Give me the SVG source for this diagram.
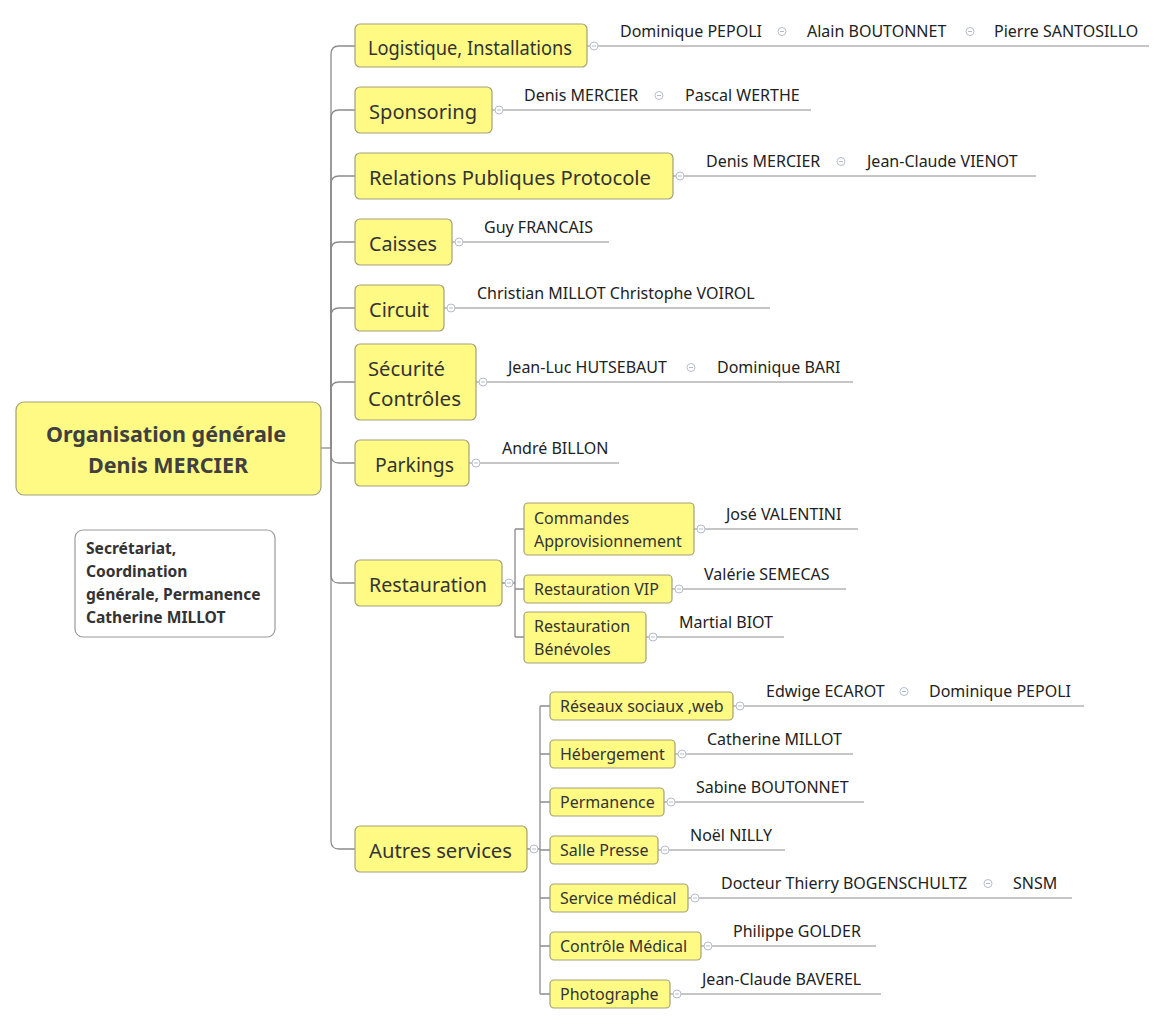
<svg xmlns="http://www.w3.org/2000/svg" width="1165" height="1025" viewBox="0 0 1165 1025">
<defs>
<style>
.box{fill:#fffa84;stroke:#a3a07c;stroke-width:1.2}
.note{fill:#ffffff;stroke:#9a9a9a;stroke-width:1.2}
.t1{font-family:"Noto Sans","Open Sans",sans-serif;font-size:19.5px;fill:#333333}
.t2{font-family:"Noto Sans","Open Sans",sans-serif;font-size:16px;fill:#333333}
.tl{font-family:"Noto Sans","Open Sans",sans-serif;font-size:16px;fill:#222222}
.troot{font-family:"Noto Sans","Open Sans",sans-serif;font-size:21.5px;font-weight:bold;fill:#404040}
.tnote{font-family:"Noto Sans","Open Sans",sans-serif;font-size:15.6px;font-weight:bold;fill:#333333}
.conn{fill:none;stroke:#8c8c8c;stroke-width:1.3}
.leaf{fill:none;stroke:#8c8c8c;stroke-width:1}
</style>
<g id="icon"><circle cx="0" cy="0" r="4" fill="#ffffff" stroke="#b4bccd" stroke-width="1"/><path d="M-2,0H2" stroke="#b4bccd" stroke-width="1"/></g>
</defs>
<rect width="1165" height="1025" fill="#ffffff"/>

<g id="connectors">
<path class="conn" d="M321,448H331"/>
<path class="conn" d="M331,448V54Q331,46 339,46H355"/>
<path class="conn" d="M331,448V118Q331,110 339,110H355"/>
<path class="conn" d="M331,448V184Q331,176 339,176H355"/>
<path class="conn" d="M331,448V250Q331,242 339,242H355"/>
<path class="conn" d="M331,448V316Q331,308 339,308H355"/>
<path class="conn" d="M331,448V390Q331,382 339,382H355"/>
<path class="conn" d="M331,448V455Q331,463 339,463H355"/>
<path class="conn" d="M331,448V575Q331,583 339,583H355"/>
<path class="conn" d="M331,448V841Q331,849 339,849H355"/>
<path class="conn" d="M502,583H515M515,529V637M515,529H524M515,589H524M515,637H524"/>
<path class="conn" d="M527,849H540M540,706V994M540,706H550M540,754H550M540,802H550M540,850H550M540,898H550M540,946H550M540,994H550"/>
<path class="leaf" d="M587,46H1149"/>
<path class="leaf" d="M492,110H811"/>
<path class="leaf" d="M673,176H1036"/>
<path class="leaf" d="M452,242H609"/>
<path class="leaf" d="M444,308H770"/>
<path class="leaf" d="M476,382H853"/>
<path class="leaf" d="M469,463H619"/>
<path class="leaf" d="M694,529H858"/>
<path class="leaf" d="M672,589H846"/>
<path class="leaf" d="M646,637H784"/>
<path class="leaf" d="M733,706H1084"/>
<path class="leaf" d="M675,754H853"/>
<path class="leaf" d="M664,802H864"/>
<path class="leaf" d="M658,850H785"/>
<path class="leaf" d="M688,898H1072"/>
<path class="leaf" d="M701,946H876"/>
<path class="leaf" d="M670,994H881"/>
</g>

<g id="icons">
<use href="#icon" x="594" y="46"/>
<use href="#icon" x="499" y="110"/>
<use href="#icon" x="680" y="176"/>
<use href="#icon" x="459" y="242"/>
<use href="#icon" x="451" y="308"/>
<use href="#icon" x="483" y="382"/>
<use href="#icon" x="476" y="463"/>
<use href="#icon" x="509" y="583"/>
<use href="#icon" x="534" y="849"/>
<use href="#icon" x="701" y="529"/>
<use href="#icon" x="679" y="589"/>
<use href="#icon" x="653" y="637"/>
<use href="#icon" x="740" y="706"/>
<use href="#icon" x="682" y="754"/>
<use href="#icon" x="671" y="802"/>
<use href="#icon" x="665" y="850"/>
<use href="#icon" x="695" y="898"/>
<use href="#icon" x="708" y="946"/>
<use href="#icon" x="677" y="994"/>
<use href="#icon" x="782" y="31.5"/>
<use href="#icon" x="970" y="31.5"/>
<use href="#icon" x="659" y="95.5"/>
<use href="#icon" x="841" y="161.5"/>
<use href="#icon" x="691" y="367.5"/>
<use href="#icon" x="904" y="691.5"/>
<use href="#icon" x="988" y="883.5"/>
</g>

<g id="root">
<rect class="box" x="16" y="402" width="305" height="93" rx="8"/>
<text class="troot" x="166" y="442" text-anchor="middle">Organisation générale</text>
<text class="troot" x="168" y="473" text-anchor="middle">Denis MERCIER</text>
</g>

<g id="note">
<rect class="note" x="75" y="530" width="200" height="107" rx="8"/>
<text class="tnote" x="86" y="554">Secrétariat,</text>
<text class="tnote" x="86" y="577">Coordination</text>
<text class="tnote" x="86" y="600">générale, Permanence</text>
<text class="tnote" x="86" y="623">Catherine MILLOT</text>
</g>

<g id="logistique">
<rect class="box" x="355" y="24" width="232" height="43" rx="5"/>
<text class="t1" x="368" y="55" textLength="204" lengthAdjust="spacingAndGlyphs">Logistique, Installations</text>
<text class="tl" x="620" y="37">Dominique PEPOLI</text>
<text class="tl" x="807" y="37">Alain BOUTONNET</text>
<text class="tl" x="994" y="37">Pierre SANTOSILLO</text>
</g>

<g id="sponsoring">
<rect class="box" x="355" y="87" width="137" height="46" rx="5"/>
<text class="t1" x="369" y="119" textLength="108" lengthAdjust="spacingAndGlyphs">Sponsoring</text>
<text class="tl" x="524" y="101">Denis MERCIER</text>
<text class="tl" x="685" y="101">Pascal WERTHE</text>
</g>

<g id="relations">
<rect class="box" x="355" y="153" width="318" height="46" rx="5"/>
<text class="t1" x="369" y="185" textLength="282" lengthAdjust="spacingAndGlyphs">Relations Publiques Protocole</text>
<text class="tl" x="706" y="167">Denis MERCIER</text>
<text class="tl" x="867" y="167">Jean-Claude VIENOT</text>
</g>

<g id="caisses">
<rect class="box" x="355" y="219" width="97" height="46" rx="5"/>
<text class="t1" x="369" y="251" textLength="68" lengthAdjust="spacingAndGlyphs">Caisses</text>
<text class="tl" x="484" y="233">Guy FRANCAIS</text>
</g>

<g id="circuit">
<rect class="box" x="355" y="285" width="89" height="46" rx="5"/>
<text class="t1" x="369" y="317" textLength="60" lengthAdjust="spacingAndGlyphs">Circuit</text>
<text class="tl" x="477" y="299">Christian MILLOT Christophe VOIROL</text>
</g>

<g id="securite">
<rect class="box" x="355" y="344" width="121" height="76" rx="5"/>
<text class="t1" x="368" y="376" textLength="77" lengthAdjust="spacingAndGlyphs">Sécurité</text>
<text class="t1" x="368" y="406" textLength="93" lengthAdjust="spacingAndGlyphs">Contrôles</text>
<text class="tl" x="508" y="373">Jean-Luc HUTSEBAUT</text>
<text class="tl" x="717" y="373">Dominique BARI</text>
</g>

<g id="parkings">
<rect class="box" x="355" y="440" width="114" height="46" rx="5"/>
<text class="t1" x="375" y="472" textLength="79" lengthAdjust="spacingAndGlyphs">Parkings</text>
<text class="tl" x="502" y="454">André BILLON</text>
</g>

<g id="restauration">
<rect class="box" x="355" y="560" width="147" height="46" rx="5"/>
<text class="t1" x="369" y="592" textLength="118" lengthAdjust="spacingAndGlyphs">Restauration</text>
</g>

<g id="commandes">
<rect class="box" x="524" y="503" width="170" height="52" rx="4"/>
<text class="t2" x="534" y="524">Commandes</text>
<text class="t2" x="534" y="547">Approvisionnement</text>
<text class="tl" x="726" y="520">José VALENTINI</text>
</g>

<g id="restauration-vip">
<rect class="box" x="524" y="575" width="148" height="28" rx="4"/>
<text class="t2" x="534" y="595">Restauration VIP</text>
<text class="tl" x="704" y="580">Valérie SEMECAS</text>
</g>

<g id="restauration-benevoles">
<rect class="box" x="524" y="612" width="122" height="51" rx="4"/>
<text class="t2" x="534" y="632">Restauration</text>
<text class="t2" x="534" y="655">Bénévoles</text>
<text class="tl" x="679" y="628">Martial BIOT</text>
</g>

<g id="autres">
<rect class="box" x="355" y="826" width="172" height="46" rx="5"/>
<text class="t1" x="369" y="858" textLength="143" lengthAdjust="spacingAndGlyphs">Autres services</text>
</g>

<g id="reseaux">
<rect class="box" x="550" y="692" width="183" height="28" rx="4"/>
<text class="t2" x="560" y="712">Réseaux sociaux ,web</text>
<text class="tl" x="766" y="697">Edwige ECAROT</text>
<text class="tl" x="929" y="697">Dominique PEPOLI</text>
</g>

<g id="hebergement">
<rect class="box" x="550" y="740" width="125" height="28" rx="4"/>
<text class="t2" x="560" y="760">Hébergement</text>
<text class="tl" x="707" y="745">Catherine MILLOT</text>
</g>

<g id="permanence">
<rect class="box" x="550" y="788" width="114" height="28" rx="4"/>
<text class="t2" x="560" y="808">Permanence</text>
<text class="tl" x="696" y="793">Sabine BOUTONNET</text>
</g>

<g id="salle-presse">
<rect class="box" x="550" y="836" width="108" height="28" rx="4"/>
<text class="t2" x="560" y="856">Salle Presse</text>
<text class="tl" x="690" y="841">Noël NILLY</text>
</g>

<g id="service-medical">
<rect class="box" x="550" y="884" width="138" height="28" rx="4"/>
<text class="t2" x="560" y="904">Service médical</text>
<text class="tl" x="721" y="889">Docteur Thierry BOGENSCHULTZ</text>
<text class="tl" x="1013" y="889">SNSM</text>
</g>

<g id="controle-medical">
<rect class="box" x="550" y="932" width="151" height="28" rx="4"/>
<text class="t2" x="560" y="952">Contrôle Médical</text>
<text class="tl" x="733" y="937">Philippe GOLDER</text>
</g>

<g id="photographe">
<rect class="box" x="550" y="980" width="120" height="28" rx="4"/>
<text class="t2" x="560" y="1000">Photographe</text>
<text class="tl" x="702" y="985">Jean-Claude BAVEREL</text>
</g>
</svg>
